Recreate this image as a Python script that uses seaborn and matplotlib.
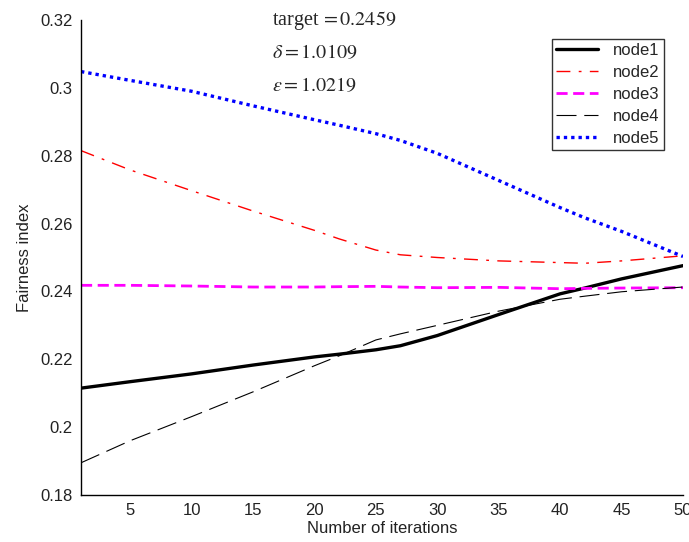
import numpy as np
import pandas as pd
import matplotlib
matplotlib.use("Agg")
import matplotlib.pyplot as plt
import seaborn as sns

# valores
iters = [1, 5, 10, 15, 20, 22, 25, 27, 30, 35, 40, 42, 45, 50]
node1 = [0.2115, 0.2134, 0.2157, 0.2183, 0.2207, 0.2215, 0.2228, 0.2240,
         0.2270, 0.2332, 0.2393, 0.2410, 0.2437, 0.2476]
node2 = [0.2815, 0.2758, 0.2697, 0.2637, 0.2580, 0.2555, 0.2522, 0.2508,
         0.2500, 0.2490, 0.2485, 0.2483, 0.2490, 0.2505]
node3 = [0.2418, 0.2418, 0.2416, 0.2413, 0.2413, 0.2414, 0.2415, 0.2413,
         0.2411, 0.2412, 0.2408, 0.2409, 0.2410, 0.2411]
node4 = [0.1895, 0.1960, 0.2031, 0.2104, 0.2181, 0.2210, 0.2257, 0.2275,
         0.2300, 0.2342, 0.2377, 0.2386, 0.2399, 0.2413]
node5 = [0.3048, 0.3022, 0.2990, 0.2947, 0.2906, 0.2890, 0.2865, 0.2845,
         0.2807, 0.2727, 0.2647, 0.2617, 0.2577, 0.2503]

names = ['node1', 'node2', 'node3', 'node4', 'node5']
series = [node1, node2, node3, node4, node5]

xticks = [5, 10, 15, 20, 25, 30, 35, 40, 45, 50]
yticks = [0.18, 0.2, 0.22, 0.24, 0.26, 0.28, 0.3, 0.32]
ytick_labels = ['0.18', '0.2', '0.22', '0.24', '0.26', '0.28', '0.3', '0.32']


def main():
    sns.set_theme(style='white')
    plt.rcParams['font.family'] = ['Liberation Sans', 'DejaVu Sans']
    plt.rcParams['mathtext.fontset'] = 'stix'

    fig = plt.figure(figsize=(6.89, 5.42), dpi=100)
    ax = fig.add_axes([0.1176, 0.0867, 0.8737, 0.8764])

    estilos = {
        'node1': dict(color='black', linestyle='-', linewidth=2.4),
        'node2': dict(color='red', linestyle=(0, (10, 6, 2, 6)), linewidth=1.0),
        'node3': dict(color='magenta', linestyle=(0, (4, 2)), linewidth=2.0),
        'node4': dict(color='black', linestyle=(0, (18, 7)), linewidth=0.8),
        'node5': dict(color='blue', linestyle=(0, (1, 1.2)), linewidth=2.4),
    }

    for nombre, vals in zip(names, series):
        sns.lineplot(x=iters, y=vals, ax=ax, label=nombre, **estilos[nombre])

    ax.set_xlim(1, 50)
    ax.set_ylim(0.18, 0.32)
    ax.set_xticks(xticks)
    ax.set_yticks(yticks)
    ax.set_yticklabels(ytick_labels)
    ax.tick_params(direction='in', length=5, width=1, labelsize=12,
                   colors='black', labelcolor='#222222', pad=6)
    for s in ['top', 'right']:
        ax.spines[s].set_visible(False)
    for s in ['left', 'bottom']:
        ax.spines[s].set_color('black')
        ax.spines[s].set_linewidth(1.0)

    ax.set_xlabel('Number of iterations', fontsize=12, labelpad=2,
                  color='#222222')
    ax.set_ylabel('Fairness index', fontsize=12, labelpad=6, color='#222222')

    txt = dict(fontsize=14.5, family='Liberation Serif', transform=ax.transAxes,
               va='center', ha='left')
    ax.text(0.317, 0.999, r'target$\,=0.2459$', **txt)
    ax.text(0.317, 0.930, r'$\delta=1.0109$', **txt)
    ax.text(0.317, 0.861, r'$\varepsilon=1.0219$', **txt)

    leg = ax.legend(loc='upper right', bbox_to_anchor=(0.968, 0.96),
                    borderaxespad=0, fontsize=12, frameon=True, fancybox=False,
                    handlelength=2.5, borderpad=0.25, labelspacing=0.42,
                    handletextpad=0.9)
    leg.get_frame().set_edgecolor('black')
    leg.get_frame().set_linewidth(1.0)

    fig.savefig('out.png', dpi=100)


if __name__ == '__main__':
    main()
